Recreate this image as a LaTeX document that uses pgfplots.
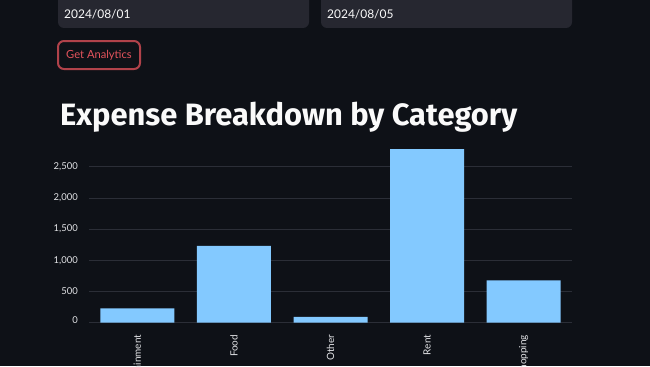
\documentclass[border=0pt]{standalone}
\usepackage{fontspec}
\setmainfont{Lato}
\newfontfamily\headfont{Fira Sans}
\usepackage{pgfplots}
\pgfplotsset{compat=1.18}
\definecolor{bg}{HTML}{0E1117}
\definecolor{field}{HTML}{262730}
\definecolor{fg}{HTML}{FAFAFA}
\definecolor{ticktext}{HTML}{E2E3E6}
\definecolor{gridc}{HTML}{2B2E37}
\definecolor{barc}{HTML}{83C9FF}
\definecolor{btnborder}{HTML}{B0424A}
\definecolor{btntext}{HTML}{E4535C}
\begin{document}
\begin{tikzpicture}[x=1bp,y=1bp]
\path[use as bounding box] (0,0) rectangle (650,366);
\clip (0,0) rectangle (650,366);
\fill[bg] (0,0) rectangle (650,366);
% date inputs
\fill[field, rounded corners=6bp] (58,338) rectangle (309,380);
\fill[field, rounded corners=6bp] (321,338) rectangle (572,380);
\node[anchor=west, inner sep=0, font=\fontsize{12}{14}\selectfont, text=fg] at (64,352) {2024/08/01};
\node[anchor=west, inner sep=0, font=\fontsize{12}{14}\selectfont, text=fg] at (327,352) {2024/08/05};
% button
\draw[btnborder, line width=2bp, rounded corners=6bp] (58,297) rectangle (140,325);
\node[inner sep=0, font=\fontsize{11.2}{13}\selectfont, text=btntext] at (99,311) {Get Analytics};
% heading
\node[anchor=base west, inner sep=0, text=fg] at (60,240.3)
  {\resizebox{457bp}{!}{\headfont\bfseries\fontsize{32}{38}\selectfont Expense Breakdown by Category}};
\begin{axis}[
  at={(89bp,43.3bp)}, anchor=south west,
  scale only axis, width=483bp, height=174.7bp,
  xmin=-0.5, xmax=4.5, ymin=0, ymax=2800,
  axis line style={draw=none},
  tick style={draw=none},
  major tick length=0pt,
  ymajorgrids, major grid style={gridc, line width=0.8bp},
  xtick={0,1,2,3,4},
  xticklabels={Entertainment,Food,Other,Rent,Shopping},
  ytick={0,500,1000,1500,2000,2500},
  yticklabels={\raisebox{5bp}{0},500,{1,000},{1,500},{2,000},{2,500}},
  yticklabel style={font=\fontsize{9.5}{11}\selectfont, text=ticktext, anchor=east, inner sep=0pt},
  yticklabel shift=11bp,
  xticklabel style={font=\fontsize{10}{12}\selectfont, text=ticktext, rotate=90, anchor=east, inner sep=0pt},
  xticklabel shift=12bp,
]
\addplot[ybar, bar width=74bp, fill=barc, draw=none]
  coordinates {(0,230) (1,1230) (2,95) (3,2780) (4,680)};
\end{axis}
\end{tikzpicture}
\end{document}
